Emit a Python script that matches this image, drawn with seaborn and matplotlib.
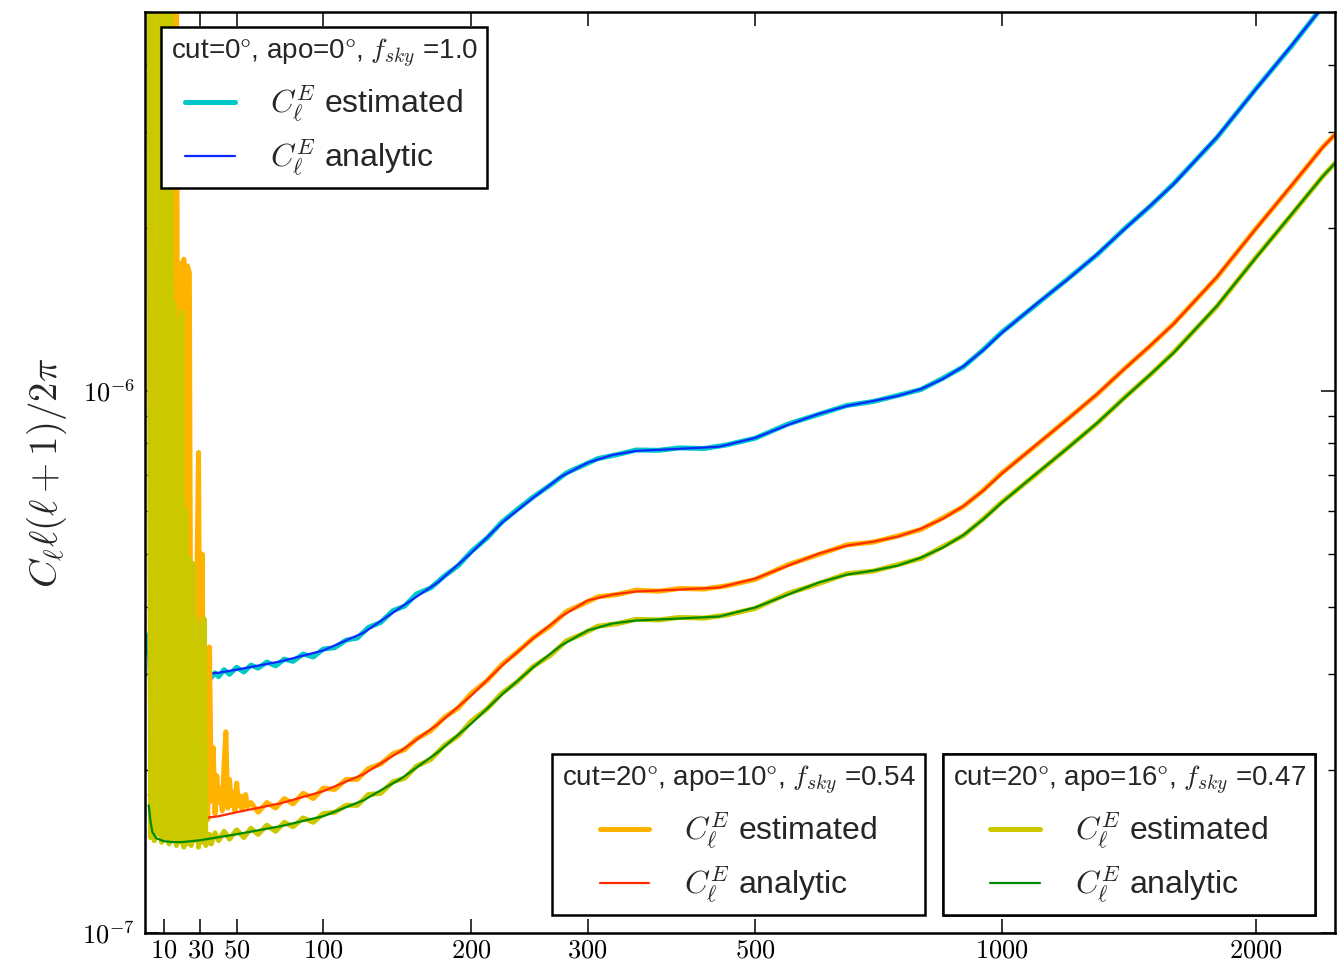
import numpy as np
import pandas as pd
import matplotlib
matplotlib.use("Agg")
import matplotlib.pyplot as plt
import seaborn as sns
from matplotlib.ticker import (FixedLocator, FuncFormatter, LogLocator,
                               NullLocator, NullFormatter)

# ---------------------------------------------------------------------------
# E-mode power spectra, D_ell = C_ell ell(ell+1)/2pi, in units of 1e-7
# ---------------------------------------------------------------------------
UNIT = 1e-7

# analytic spectra (shared multipole grid)
ell_an = [2, 3, 4, 6, 10, 15, 20, 30, 40, 50, 75, 100, 125, 150, 175, 200, 225,
          250, 275, 300, 325, 350, 400, 450, 500, 550, 600, 650, 700, 750, 800,
          850, 900, 950, 1000, 1100, 1200, 1300, 1400, 1500, 1600, 1800, 2000,
          2200, 2400, 2480]
dl_an_full = [3.29, 3.24, 3.18, 3.12, 3.06, 3.04, 3.02, 3.00, 3.02, 3.06, 3.17,
              3.32, 3.58, 4.00, 4.43, 5.03, 5.74, 6.35, 6.95, 7.37, 7.62, 7.75,
              7.82, 7.89, 8.19, 8.66, 9.07, 9.38, 9.58, 9.79, 10.08, 10.52,
              11.10, 11.88, 12.79, 14.46, 16.08, 17.88, 19.88, 21.92, 24.06,
              29.37, 35.98, 43.19, 51.2, 54.1]
dl_an_apo10 = [1.80, 1.76, 1.72, 1.68, 1.65, 1.63, 1.62, 1.625, 1.642, 1.670,
               1.735, 1.826, 1.963, 2.173, 2.426, 2.744, 3.129, 3.494, 3.835,
               4.106, 4.211, 4.265, 4.301, 4.338, 4.505, 4.761, 5.009, 5.182,
               5.271, 5.384, 5.569, 5.810, 6.130, 6.540, 7.034, 7.953, 8.880,
               9.874, 10.98, 12.10, 13.28, 16.22, 19.88, 23.85, 28.15, 29.74]
dl_an_apo16 = [1.720, 1.601, 1.535, 1.496, 1.477, 1.471, 1.471, 1.483, 1.502,
               1.521, 1.574, 1.642, 1.757, 1.930, 2.154, 2.436, 2.767, 3.090,
               3.392, 3.614, 3.724, 3.771, 3.803, 3.835, 3.985, 4.211, 4.430,
               4.582, 4.661, 4.761, 4.925, 5.139, 5.420, 5.790, 6.219, 7.034,
               7.853, 8.730, 9.708, 10.70, 11.75, 14.34, 17.58, 21.09, 24.89,
               26.30]

# estimated spectra, full sky
ell_est_full = [1, 2, 3, 4, 5, 6, 7, 8, 9, 10, 12, 14, 16, 18, 20, 22, 24, 26,
                28, 30, 32, 34, 36, 38, 40, 43, 46, 50, 54, 58, 62, 67, 72, 77,
                82, 88, 94, 100, 107, 114, 121, 128, 136, 144, 152, 160, 170,
                180, 190, 200, 212, 224, 236, 250, 265, 280, 295, 310, 330, 350,
                375, 400, 430, 460, 500, 550, 600, 650, 700, 750, 800, 850, 900,
                950, 1000, 1100, 1200, 1300, 1400, 1500, 1600, 1800, 2000, 2200,
                2400, 2480]
dl_est_full = [3.30, 3.55, 2.85, 3.50, 2.95, 3.30, 2.90, 3.25, 2.95, 3.20, 2.90,
               3.15, 2.92, 3.12, 2.93, 3.10, 2.95, 3.08, 2.94, 3.05, 2.96, 2.92,
               2.96, 3.02, 2.97, 3.06, 3.00, 3.09, 3.03, 3.12, 3.08, 3.16, 3.11,
               3.20, 3.17, 3.27, 3.23, 3.34, 3.36, 3.47, 3.50, 3.66, 3.74, 3.93,
               4.01, 4.22, 4.33, 4.56, 4.76, 5.06, 5.35, 5.73, 6.03, 6.37, 6.70,
               7.06, 7.28, 7.50, 7.63, 7.78, 7.77, 7.85, 7.83, 7.95, 8.18, 8.69,
               9.05, 9.40, 9.56, 9.81, 10.06, 10.55, 11.08, 11.90, 12.82, 14.43,
               16.11, 17.85, 19.91, 21.88, 24.10, 29.32, 36.03, 43.1, 51.3,
               54.0]

# estimated spectra, 20 deg cut with 10 deg apodisation
ell_est_apo10 = [*range(2, 57), 58, 62, 67, 72, 77, 82, 88, 94, 100, 107, 114,
                 121, 128, 136, 144, 152, 160, 170, 180, 190, 200, 212, 224,
                 236, 250, 265, 280, 295, 310, 330, 350, 375, 400, 430, 460,
                 500, 550, 600, 650, 700, 750, 800, 850, 900, 950, 1000, 1100,
                 1200, 1300, 1400, 1500, 1600, 1800, 2000, 2200, 2400, 2480]
dl_est_apo10 = [300, 1.75, 200, 1.70, 150, 1.72, 100, 1.68, 120, 1.70,
                80, 1.66, 90, 1.69, 60, 70, 1.70, 17.2, 1.68, 17.5,
                1.70, 17.0, 16.5, 1.66, 3.5, 1.70, 4.2, 7.7, 1.70, 5.0,
                1.72, 3.0, 1.62, 3.37, 1.75, 2.2, 1.66, 1.95, 1.74, 1.85,
                1.68, 2.05, 2.35, 1.70, 1.92, 1.72, 1.82, 1.68, 1.89, 1.72,
                1.79, 1.69, 1.78, 1.80, 1.71,
                1.74, 1.67, 1.74, 1.70, 1.77, 1.73, 1.81, 1.77, 1.85, 1.84,
                1.92, 1.92, 2.01, 2.05, 2.14, 2.18, 2.28, 2.36, 2.50, 2.60,
                2.77, 2.92, 3.13, 3.29, 3.50, 3.68, 3.92, 4.04, 4.17, 4.21,
                4.29, 4.27, 4.32, 4.31, 4.37, 4.49, 4.78, 4.99, 5.20, 5.26,
                5.40, 5.55, 5.83, 6.12, 6.55, 7.05, 7.94, 8.89, 9.86, 10.99,
                12.08, 13.30, 16.19, 19.91, 23.80, 28.2, 29.7]

# estimated spectra, 20 deg cut with 16 deg apodisation
ell_est_apo16 = [*range(2, 35), 35, 36, 38, 40, 43, 46, 50, 54, 58, 62, 67, 72,
                 77, 82, 88, 94, 100, 107, 114, 121, 128, 136, 144, 152, 160,
                 170, 180, 190, 200, 212, 224, 236, 250, 265, 280, 295, 310,
                 330, 350, 375, 400, 430, 460, 500, 550, 600, 650, 700, 750,
                 800, 850, 900, 950, 1000, 1100, 1200, 1300, 1400, 1500, 1600,
                 1800, 2000, 2200, 2400, 2480]
dl_est_apo16 = [400, 1.50, 250, 1.48, 180, 1.52, 120, 1.47, 150, 1.50,
                90, 1.46, 110, 1.49, 14.5, 1.45, 13.5, 1.47, 14.0, 1.44,
                6.0, 1.46, 4.9, 1.45, 4.8, 1.48, 3.8, 1.44, 3.7, 1.47,
                3.8, 1.45, 1.50,
                1.52, 1.46, 1.53, 1.48, 1.54, 1.49, 1.55, 1.50, 1.56, 1.52,
                1.58, 1.54, 1.60, 1.57, 1.63, 1.60, 1.66, 1.67, 1.72, 1.72,
                1.80, 1.81, 1.90, 1.93, 2.03, 2.09, 2.22, 2.31, 2.46, 2.59,
                2.77, 2.90, 3.10, 3.25, 3.46, 3.56, 3.68, 3.72, 3.79, 3.78,
                3.82, 3.81, 3.86, 3.97, 4.23, 4.41, 4.60, 4.65, 4.78, 4.91,
                5.16, 5.41, 5.80, 6.23, 7.02, 7.86, 8.72, 9.72, 10.69, 11.77,
                14.31, 17.61, 21.05, 24.9, 26.3]

x_ticks = [10, 30, 50, 100, 200, 300, 500, 1000, 2000]

legend_titles = [r"cut=0$\degree$, apo=0$\degree$, $f_{sky}$ =1.0",
                 r"cut=20$\degree$, apo=10$\degree$, $f_{sky}$ =0.54",
                 r"cut=20$\degree$, apo=16$\degree$, $f_{sky}$ =0.47"]
label_est = r"$C_\ell^E$ estimated"
label_an = r"$C_\ell^E$ analytic"

# ---------------------------------------------------------------------------
sns.set_style("ticks")
plt.rcParams["font.family"] = ["Liberation Sans", "DejaVu Sans"]
plt.rcParams["mathtext.fontset"] = "cm"
plt.rcParams["axes.edgecolor"] = "black"
plt.rcParams["xtick.color"] = "black"
plt.rcParams["ytick.color"] = "black"

fig = plt.figure(figsize=(13.39, 9.63), dpi=100)
ax = fig.add_axes([0.1083, 0.0312, 0.8887, 0.9563])
ax.set_xscale("asinh", linear_width=200)
ax.set_yscale("log")

EST_LW = 3.6
AN_LW = 1.6


def draw(ell, dl, color, lw, label):
    df = pd.DataFrame({"ell": ell, "dl": np.asarray(dl, dtype=float) * UNIT})
    sns.lineplot(data=df, x="ell", y="dl", color=color, lw=lw, ax=ax,
                 sort=False, estimator=None, legend=False)
    line = ax.lines[-1]
    line.set_label(label)
    line.set_solid_joinstyle("round")
    return line


series = [
    (ell_est_full, dl_est_full, "#00c8c8", EST_LW, label_est),
    (ell_an, dl_an_full, "#0a28ff", AN_LW, label_an),
    (ell_est_apo10, dl_est_apo10, "#ffb200", EST_LW, label_est),
    (ell_an, dl_an_apo10, "#ff2a00", AN_LW, label_an),
    (ell_est_apo16, dl_est_apo16, "#cbc800", EST_LW, label_est),
    (ell_an, dl_an_apo16, "#008a00", AN_LW, label_an),
]
lines = [draw(*s) for s in series]

ax.set_xlim(0, 2480)
ax.set_ylim(1e-7, 5e-6)

ax.xaxis.set_major_locator(FixedLocator(x_ticks))
ax.xaxis.set_major_formatter(FuncFormatter(lambda v, p: rf"${v:.0f}$"))
ax.xaxis.set_minor_locator(NullLocator())
ax.yaxis.set_major_locator(LogLocator(base=10))
ax.yaxis.set_minor_locator(LogLocator(base=10, subs=np.arange(2, 10)))
ax.yaxis.set_minor_formatter(NullFormatter())
ax.yaxis.set_major_formatter(
    FuncFormatter(lambda v, p: rf"$10^{{{int(round(np.log10(v)))}}}$"))

ax.tick_params(which="both", direction="in", top=True, right=True)
ax.tick_params(which="major", length=10, width=1.1, labelsize=19)
ax.tick_params(axis="x", which="major", pad=4)
ax.tick_params(axis="y", which="major", pad=7)
ax.tick_params(which="minor", length=5, width=1.0)
for sp in ax.spines.values():
    sp.set_linewidth(1.8)
    sp.set_color("black")

ax.set_xlabel("")
ax.set_ylabel(r"$C_\ell\ell(\ell+1)/2\pi$", fontsize=28, labelpad=10)

legend_places = [("upper left", (0.0134, 0.9837)),
                 ("lower left", (0.342, 0.0195)),
                 ("lower left", (0.6706, 0.0195))]
for i, (loc, anchor) in enumerate(legend_places):
    leg = ax.legend(handles=lines[2 * i:2 * i + 2], title=legend_titles[i],
                    loc=loc, bbox_to_anchor=anchor, borderaxespad=0,
                    frameon=True, fancybox=False, framealpha=1,
                    edgecolor="black", facecolor="white", fontsize=23,
                    title_fontsize=20, handlelength=1.55, handletextpad=1.1,
                    labelspacing=0.42, borderpad=0.3)
    leg.get_frame().set_linewidth(1.8)
    ax.add_artist(leg)

fig.savefig("out.png", dpi=100)
